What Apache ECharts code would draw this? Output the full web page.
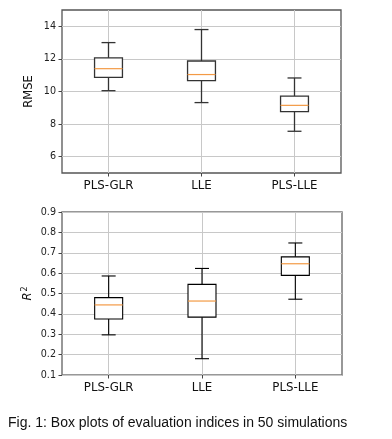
<!DOCTYPE html>
<html>
<head>
<meta charset="utf-8">
<script src="https://cdn.jsdelivr.net/npm/echarts@6/dist/echarts.min.js"></script>
<style>
html,body{margin:0;padding:0;background:#fff;}
#c{width:392px;height:439px;}
</style>
</head>
<body>
<div id="c"></div>
<script>
// Data
var categories = ['PLS-GLR', 'LLE', 'PLS-LLE'];
// [low whisker, Q1, median, Q3, high whisker]
var rmseStats = [
  [10.05, 10.87, 11.40, 12.06, 13.00],
  [9.32, 10.67, 11.04, 11.87, 13.80],
  [7.56, 8.77, 9.15, 9.72, 10.83]
];
var r2Stats = [
  [0.297, 0.375, 0.444, 0.480, 0.586],
  [0.180, 0.384, 0.463, 0.545, 0.623],
  [0.472, 0.589, 0.646, 0.680, 0.748]
];
var rmseTicks = [6, 8, 10, 12, 14];
var r2Ticks = [0.1, 0.2, 0.3, 0.4, 0.5, 0.6, 0.7, 0.8, 0.9];
var caption = 'Fig. 1: Box plots of evaluation indices in 50 simulations';

var FONT = 'DejaVu Sans';
var BOX_W = 0.3, CAP_W = 0.15;

function boxData(stats) {
  return stats.map(function (s, i) { return [i + 1].concat(s); });
}

function makeRender(lineColor, lineWidth) {
  return function (params, api) {
    var x = api.value(0);
    var lo = api.coord([x, api.value(1)]);
    var q1 = api.coord([x, api.value(2)]);
    var md = api.coord([x, api.value(3)]);
    var q3 = api.coord([x, api.value(4)]);
    var hi = api.coord([x, api.value(5)]);
    var bw = api.size([BOX_W, 0])[0];
    var cw = api.size([CAP_W, 0])[0];
    var cx = lo[0];
    var st = {stroke: lineColor, lineWidth: lineWidth, fill: null};
    return {
      type: 'group',
      children: [
        {type: 'line', shape: {x1: cx, y1: q3[1], x2: cx, y2: hi[1]}, style: st},
        {type: 'line', shape: {x1: cx, y1: q1[1], x2: cx, y2: lo[1]}, style: st},
        {type: 'line', shape: {x1: cx - cw / 2, y1: hi[1], x2: cx + cw / 2, y2: hi[1]}, style: st},
        {type: 'line', shape: {x1: cx - cw / 2, y1: lo[1], x2: cx + cw / 2, y2: lo[1]}, style: st},
        {type: 'rect', shape: {x: cx - bw / 2, y: q3[1], width: bw, height: q1[1] - q3[1]}, style: {stroke: lineColor, lineWidth: lineWidth, fill: '#fff'}},
        {type: 'line', shape: {x1: cx - bw / 2, y1: md[1], x2: cx + bw / 2, y2: md[1]}, style: {stroke: '#f39a45', lineWidth: 1.2}}
      ]
    };
  };
}

function xAxisCfg(gi) {
  return {
    type: 'value', gridIndex: gi, min: 0.5, max: 3.5,
    axisLine: {show: false},
    axisTick: {show: true, inside: false, length: 3.5, lineStyle: {color: '#444'}, customValues: [1, 2, 3]},
    axisLabel: {show: true, customValues: [1, 2, 3], margin: 7, fontFamily: FONT, fontSize: 11.8, color: '#111',
      formatter: function (v) { return categories[Math.round(v) - 1] || ''; }},
    splitLine: {show: true, lineStyle: {color: '#c8c8c8', width: 1}}
  };
}

var chart = echarts.init(document.getElementById('c'), null, {renderer: 'canvas'});
chart.setOption({
  animation: false,
  backgroundColor: '#fff',
  grid: [
    {left: 62, top: 10, width: 279, height: 163, show: true, borderColor: '#555', borderWidth: 1.3, backgroundColor: 'transparent'},
    {left: 62, top: 212, width: 280, height: 163, show: true, borderColor: '#777', borderWidth: 1.5, backgroundColor: 'transparent'}
  ],
  xAxis: [xAxisCfg(0), xAxisCfg(1)],
  yAxis: [
    {
      type: 'value', gridIndex: 0, min: 5, max: 15,
      name: 'RMSE', nameLocation: 'middle', nameGap: 27, nameRotate: 90, nameMoveOverlap: false,
      nameTextStyle: {fontFamily: FONT, fontSize: 11.5, color: '#111'},
      axisLine: {show: false},
      axisTick: {show: true, length: 3.5, lineStyle: {color: '#444'}, customValues: rmseTicks},
      axisLabel: {customValues: rmseTicks, margin: 6, fontFamily: FONT, fontSize: 9.6, color: '#222'},
      splitLine: {show: true, lineStyle: {color: '#c8c8c8', width: 1}}
    },
    {
      type: 'value', gridIndex: 1, min: 0.1, max: 0.9,
      name: '{i|R}{s|2}', nameLocation: 'middle', nameGap: 27, nameRotate: 90, nameMoveOverlap: false,
      nameTextStyle: {fontFamily: FONT, fontSize: 11.5, color: '#111',
        rich: {i: {fontFamily: FONT, fontSize: 11.5, fontStyle: 'italic', color: '#111'},
               s: {fontFamily: FONT, fontSize: 8, color: '#111', verticalAlign: 'top', padding: [0, 0, 6, 1]}}},
      axisLine: {show: false},
      axisTick: {show: true, length: 3.5, lineStyle: {color: '#444'}, customValues: r2Ticks},
      axisLabel: {customValues: r2Ticks, margin: 6, fontFamily: FONT, fontSize: 9.6, color: '#222',
        formatter: function (v) { return v.toFixed(1); }},
      splitLine: {show: true, lineStyle: {color: '#c8c8c8', width: 1}}
    }
  ],
  graphic: [{
    type: 'text', left: 8, top: 416,
    style: {text: caption, fontFamily: 'Liberation Sans', fontSize: 14, fill: '#111'}
  }],
  series: [
    {type: 'custom', xAxisIndex: 0, yAxisIndex: 0, renderItem: makeRender('#333', 1.3), data: boxData(rmseStats), z: 5},
    {type: 'custom', xAxisIndex: 1, yAxisIndex: 1, renderItem: makeRender('#000', 1.1), data: boxData(r2Stats), z: 5}
  ]
});
</script>
</body>
</html>
